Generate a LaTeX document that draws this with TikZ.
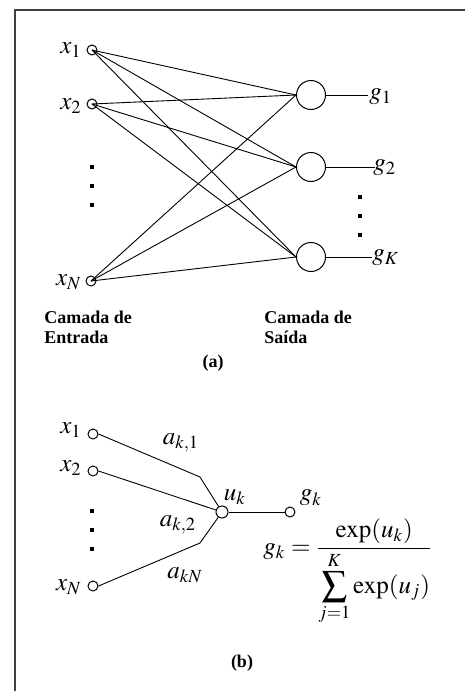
\documentclass[tikz,border=0pt]{standalone}
\usepackage{mathptmx}
\usepackage{fontspec}
\setmainfont{Liberation Serif}
\begin{document}
\begin{tikzpicture}[x=0.5pt,y=-0.5pt,
  inp/.style={circle,draw,line width=0.5pt,inner sep=0pt,minimum size=5pt},
  outn/.style={circle,draw,line width=0.5pt,inner sep=0pt,minimum size=14.5pt},
  conn/.style={line width=0.45pt},
  lbl/.style={font=\fontsize{12.5}{14}\selectfont,inner sep=1pt},
  captxt/.style={font=\bfseries\fontsize{9}{10}\selectfont,align=left,inner sep=0pt},
  dotmk/.style={fill=black,inner sep=0pt,minimum size=2pt}]
\useasboundingbox (0,0) rectangle (465,691);
\draw[line width=1pt,black!75] (15,691) -- (15,10) -- (465,10);
% (a) inputs
\node[inp] (x1) at (92,50) {};
\node[inp] (x2) at (92,104) {};
\node[inp] (xN) at (91,281) {};
\node[lbl,anchor=east] at (84,50) {$x_1$};
\node[lbl,anchor=east] at (84,106) {$x_2$};
\node[lbl,anchor=east] at (84,282) {$x_N$};
\foreach \y in {167,186,205} \node[dotmk] at (92,\y) {};
% outputs
\node[outn] (g1) at (311,95) {};
\node[outn] (g2) at (311,167) {};
\node[outn] (gK) at (311,257) {};
\foreach \o in {g1,g2,gK} \foreach \i in {x1,x2,xN}
  \draw[conn] (\i.center) -- (\o.west);
\coordinate (e1) at (368,95);
\coordinate (e2) at (375,167);
\coordinate (eK) at (372,257);
\draw[conn] (g1.east) -- (e1);
\draw[conn] (g2.east) -- (e2);
\draw[conn] (gK.east) -- (eK);
\node[lbl,anchor=west] at (367,97) {$g_1$};
\node[lbl,anchor=west] at (371,168) {$g_2$};
\node[lbl,anchor=west] at (370,258) {$g_K$};
\foreach \y in {197,216,235} \node[dotmk] at (360,\y) {};
\node[captxt,anchor=west] at (44,327) {Camada de\\Entrada};
\node[captxt,anchor=west] at (264,327) {Camada de\\Saída};
\node[captxt] at (213,363) {(a)};
% (b)
\node[inp] (b1) at (93,434) {};
\node[inp] (b2) at (93,471) {};
\node[inp] (bN) at (93,586) {};
\node[lbl,anchor=east] at (84,430) {$x_1$};
\node[lbl,anchor=east] at (84,468) {$x_2$};
\node[lbl,anchor=east] at (84,587) {$x_N$};
\foreach \y in {511,530,549} \node[dotmk] at (92,\y) {};
\node[inp,minimum size=6pt] (uk) at (222,512) {};
\node[inp] (gk) at (290,512) {};
\coordinate (k1) at (200,477);
\coordinate (kN) at (200,543);
\draw[conn] (b1.east) -- (k1) -- (uk);
\draw[conn] (b2.east) -- (uk);
\draw[conn] (bN.east) -- (kN) -- (uk);
\draw[conn] (uk) -- (gk);
\node[lbl] at (181,443) {$a_{k,1}$};
\node[lbl] at (178,525) {$a_{k,2}$};
\node[lbl] at (185,575) {$a_{kN}$};
\node[lbl] at (235,497) {$u_k$};
\node[lbl] at (311,498) {$g_k$};
\node[lbl,font=\fontsize{12.5}{14}\selectfont] at (348,572) {$\displaystyle g_k=\frac{\exp(u_k)}{\displaystyle\sum_{j=1}^{K}\exp(u_j)}$};
\node[captxt] at (242,663) {(b)};
\end{tikzpicture}
\end{document}
